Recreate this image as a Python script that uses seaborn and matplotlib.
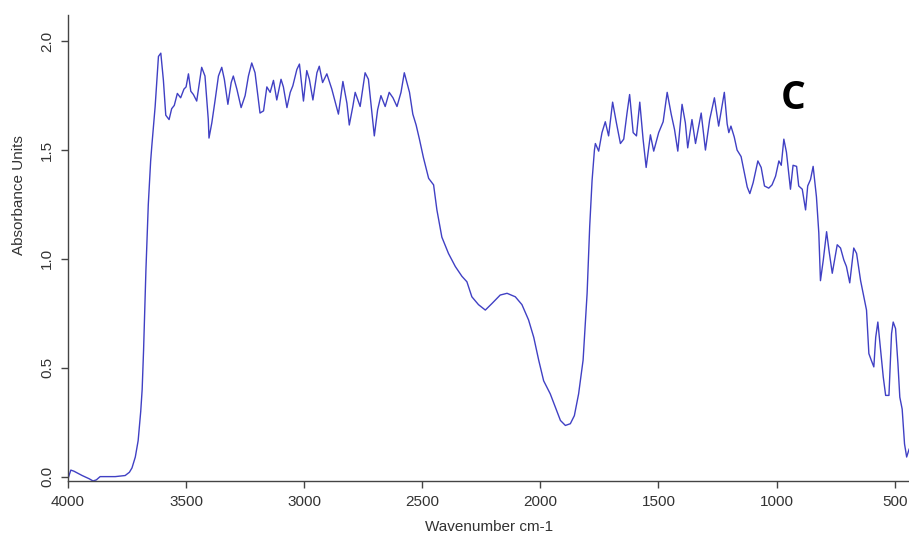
import pandas as pd
import matplotlib
matplotlib.use('Agg')
import matplotlib.pyplot as plt
import seaborn as sns

# spectrum (wavenumber in cm-1, absorbance)
wavenumber = [
    4000, 3988, 3975, 3940, 3910, 3894, 3880, 3864, 3800, 3758, 3740, 3729, 3715, 3703,
    3692, 3686, 3680, 3670, 3660, 3650, 3645, 3631, 3617, 3607, 3596, 3586, 3572, 3561,
    3550, 3537, 3523, 3509, 3500, 3490, 3480, 3469, 3455, 3434, 3420, 3406, 3403, 3391,
    3377, 3363, 3349, 3338, 3323, 3309, 3300, 3285, 3267, 3250, 3236, 3222, 3208, 3187,
    3172, 3158, 3144, 3130, 3116, 3098, 3088, 3073, 3059, 3048, 3031, 3020, 3003, 2989,
    2978, 2963, 2946, 2936, 2922, 2904, 2883, 2855, 2836, 2819, 2809, 2794, 2784, 2763,
    2742, 2728, 2713, 2703, 2689, 2675, 2657, 2640, 2624, 2607, 2590, 2576, 2565, 2554,
    2540, 2526, 2512, 2502, 2495, 2473, 2452, 2438, 2417, 2389, 2360, 2332, 2311, 2290,
    2262, 2233, 2205, 2170, 2141, 2106, 2078, 2050, 2028, 2007, 1986, 1958, 1937, 1915,
    1894, 1873, 1856, 1838, 1819, 1802, 1791, 1781, 1771, 1767, 1753, 1739, 1725, 1711,
    1694, 1678, 1661, 1647, 1633, 1622, 1607, 1593, 1579, 1565, 1552, 1534, 1520, 1499,
    1480, 1463, 1446, 1432, 1418, 1400, 1386, 1376, 1358, 1343, 1319, 1301, 1283, 1263,
    1245, 1221, 1209, 1202, 1193, 1179, 1167, 1150, 1139, 1124, 1113, 1099, 1079, 1065,
    1051, 1033, 1019, 1004, 990, 980, 969, 958, 941, 930, 915, 906, 891, 877,
    868, 856, 845, 831, 821, 814, 802, 788, 778, 764, 743, 729, 715, 704,
    690, 673, 661, 644, 630, 619, 609, 599, 588, 580, 571, 559, 548, 538,
    524, 513, 506, 496, 486, 478, 468, 458, 449, 438,
]
absorbance = [
    -0.01, 0.03, 0.025, 0.005, -0.01, -0.02, -0.015, 0.0, 0.0, 0.005, 0.02, 0.04, 0.09, 0.165,
    0.30, 0.40, 0.58, 0.95, 1.25, 1.45, 1.52, 1.70, 1.93, 1.945, 1.82, 1.66, 1.64, 1.69,
    1.705, 1.76, 1.74, 1.78, 1.79, 1.85, 1.77, 1.755, 1.725, 1.88, 1.84, 1.64, 1.555, 1.625,
    1.73, 1.84, 1.88, 1.825, 1.71, 1.81, 1.84, 1.78, 1.695, 1.75, 1.84, 1.90, 1.855, 1.67,
    1.68, 1.79, 1.765, 1.82, 1.73, 1.825, 1.79, 1.695, 1.765, 1.795, 1.87, 1.895, 1.725, 1.865,
    1.825, 1.73, 1.855, 1.885, 1.81, 1.85, 1.78, 1.665, 1.815, 1.715, 1.615, 1.70, 1.765, 1.70,
    1.855, 1.825, 1.67, 1.565, 1.685, 1.75, 1.70, 1.765, 1.74, 1.70, 1.765, 1.855, 1.81, 1.765,
    1.665, 1.615, 1.55, 1.50, 1.465, 1.37, 1.34, 1.225, 1.10, 1.025, 0.965, 0.92, 0.895, 0.826,
    0.79, 0.765, 0.795, 0.834, 0.842, 0.826, 0.79, 0.72, 0.64, 0.535, 0.44, 0.38, 0.32, 0.258,
    0.235, 0.243, 0.28, 0.38, 0.535, 0.842, 1.15, 1.36, 1.50, 1.53, 1.495, 1.58, 1.63, 1.565,
    1.72, 1.625, 1.53, 1.55, 1.67, 1.755, 1.58, 1.565, 1.72, 1.55, 1.42, 1.57, 1.495, 1.58,
    1.63, 1.765, 1.665, 1.595, 1.495, 1.71, 1.625, 1.51, 1.64, 1.53, 1.67, 1.50, 1.64, 1.74,
    1.61, 1.765, 1.62, 1.58, 1.61, 1.56, 1.50, 1.47, 1.41, 1.33, 1.30, 1.35, 1.45, 1.42,
    1.335, 1.325, 1.34, 1.38, 1.45, 1.43, 1.55, 1.49, 1.32, 1.43, 1.425, 1.335, 1.32, 1.225,
    1.335, 1.365, 1.425, 1.285, 1.12, 0.90, 0.995, 1.125, 1.04, 0.934, 1.065, 1.05, 0.995, 0.965,
    0.89, 1.05, 1.025, 0.90, 0.825, 0.765, 0.565, 0.535, 0.504, 0.64, 0.71, 0.58, 0.457, 0.373,
    0.373, 0.657, 0.71, 0.68, 0.52, 0.365, 0.31, 0.15, 0.09, 0.128,
]

x_ticks = [4000, 3500, 3000, 2500, 2000, 1500, 1000, 500]
y_ticks = [0.0, 0.5, 1.0, 1.5, 2.0]

df = pd.DataFrame({'wavenumber': wavenumber, 'absorbance': absorbance})

sns.set_style('ticks')
plt.rcParams['font.family'] = ['Liberation Sans', 'DejaVu Sans']

fig = plt.figure(figsize=(9.09, 5.38), dpi=100)
ax = fig.add_axes([0.0748, 0.106, 0.926, 0.866])

sns.lineplot(data=df, x='wavenumber', y='absorbance', ax=ax, color='#4040c4', linewidth=1.0,
             sort=False, estimator=None)

ax.set_xlim(4000, 436)
ax.set_ylim(-0.02, 2.12)
ax.set_xticks(x_ticks)
ax.set_xticklabels([str(t) for t in x_ticks])
ax.set_yticks(y_ticks)
ax.set_yticklabels(['%.1f' % t for t in y_ticks], rotation=90, va='center')

for side in ['top', 'right']:
    ax.spines[side].set_visible(False)
for side in ['left', 'bottom']:
    ax.spines[side].set_color('#444444')
    ax.spines[side].set_linewidth(1.0)

ax.tick_params(axis='both', direction='out', length=5, width=1, color='#444444',
               labelsize=11, labelcolor='#333333', pad=5)

ax.set_xlabel('Wavenumber cm-1', fontsize=11, color='#333333', labelpad=8)
ax.set_ylabel('Absorbance Units', fontsize=11, color='#333333')
ax.yaxis.set_label_coords(-0.05, 0.614)

ax.text(0.862, 0.82, 'C', transform=ax.transAxes, fontsize=28, fontweight='bold',
        family='Open Sans', color='black', ha='center', va='center')

fig.savefig('out.png', dpi=100)
